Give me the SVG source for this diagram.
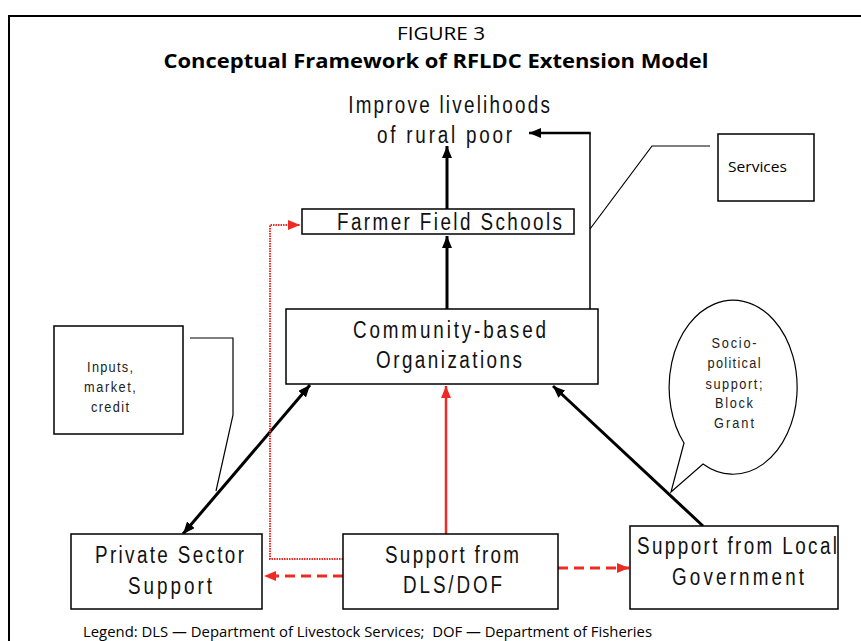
<svg xmlns="http://www.w3.org/2000/svg" width="861" height="641" viewBox="0 0 861 641">
<defs>
<style>
.box{fill:#fff;stroke:#000;stroke-width:1.5}
.thin{fill:none;stroke:#000;stroke-width:1.2}
.lbl{font-family:"Liberation Sans",Arial,sans-serif;font-size:23px;fill:#111;text-anchor:middle}
.sm{font-family:"Liberation Sans",Arial,sans-serif;font-size:15px;fill:#222;text-anchor:middle}
.hd{font-family:"Open Sans","Noto Sans",sans-serif;fill:#000;text-anchor:middle}
.blk{fill:none;stroke:#000;stroke-width:3}
.red{fill:none;stroke:#ee2a24;stroke-width:2.5}
.dash{fill:none;stroke:#ee2a24;stroke-width:3;stroke-dasharray:10,6}
.dot{fill:none;stroke:#ee2a24;stroke-width:2;stroke-dasharray:1.5,1}
</style>
<marker id="ab" markerUnits="userSpaceOnUse" markerWidth="12" markerHeight="10" refX="12" refY="5" orient="auto-start-reverse"><path d="M0,0 L12,5 L0,10 z" fill="#000"/></marker>
<marker id="ar" markerUnits="userSpaceOnUse" markerWidth="12" markerHeight="10" refX="12" refY="5" orient="auto-start-reverse"><path d="M0,0 L12,5 L0,10 z" fill="#ee2a24"/></marker>
</defs>
<rect x="9" y="16" width="900" height="700" fill="#fff" stroke="#000" stroke-width="2"/>
<text class="hd" x="441" y="40" font-size="18" textLength="88" lengthAdjust="spacingAndGlyphs">FIGURE 3</text>
<text class="hd" x="436" y="68" font-size="19" font-weight="bold" textLength="545" lengthAdjust="spacingAndGlyphs">Conceptual Framework of RFLDC Extension Model</text>

<g id="goal">
<text class="lbl" transform="translate(449,113) scale(0.82,1)" textLength="246">Improve livelihoods</text>
<text class="lbl" transform="translate(444.5,143) scale(0.82,1)" textLength="164.6">of rural poor</text>
</g>

<g id="connectors">
<path fill="none" stroke="#000" stroke-width="1.5" d="M590,309 L590,133"/>
<path fill="none" stroke="#000" stroke-width="2.5" d="M590.7,133 L529,133" marker-end="url(#ab)"/>
<path class="blk" d="M447,209 L447,146" marker-end="url(#ab)"/>
<path class="blk" d="M447,309 L447,236" marker-end="url(#ab)"/>
<path class="blk" d="M183,534 L310,385" marker-start="url(#ab)" marker-end="url(#ab)"/>
<path class="blk" d="M703,526 L553,386" marker-end="url(#ab)"/>
<path class="red" d="M446,534 L446,386" marker-end="url(#ar)"/>
<path class="dot" d="M343,559 L270,559 L270,225 L300,225" marker-end="url(#ar)"/>
<path class="dash" d="M343,576 L264,576" marker-end="url(#ar)"/>
<path class="dash" d="M558,568 L629,568" marker-end="url(#ar)"/>
</g>

<g id="ffs">
<rect class="box" x="302" y="209" width="272" height="25"/>
<text class="lbl" transform="translate(449.5,230) scale(0.82,1)" textLength="274.4">Farmer Field Schools</text>
</g>

<g id="cbo">
<rect class="box" x="286" y="309" width="312" height="75"/>
<text class="lbl" transform="translate(449.5,338) scale(0.82,1)" textLength="235.4">Community-based</text>
<text class="lbl" transform="translate(449,368) scale(0.82,1)" textLength="178">Organizations</text>
</g>

<g id="services">
<rect class="box" x="718" y="134" width="96" height="67"/>
<text class="hd" x="757.5" y="172" font-size="15" textLength="59" lengthAdjust="spacingAndGlyphs">Services</text>
<path class="thin" d="M710,146 L652,146 L590,229"/>
</g>

<g id="inputs">
<rect class="box" x="54" y="326" width="129" height="108"/>
<text class="sm" transform="translate(110,372) scale(0.85,1)" textLength="54">Inputs,</text>
<text class="sm" transform="translate(110,392) scale(0.85,1)" textLength="61">market,</text>
<text class="sm" transform="translate(110,412) scale(0.85,1)" textLength="44.7">credit</text>
<path class="thin" d="M190,338 L233,338 L233,415 L216,491"/>
</g>

<g id="bubble">
<path d="M684,443 A64,87 0 1,1 703,464 L671,492 Z" fill="#fff" stroke="#000" stroke-width="1.2"/>
<text class="sm" transform="translate(734,348) scale(0.85,1)" textLength="53">Socio-</text>
<text class="sm" transform="translate(734,368) scale(0.85,1)" textLength="62.4">political</text>
<text class="sm" transform="translate(734,389) scale(0.85,1)" textLength="67">support;</text>
<text class="sm" transform="translate(734,408) scale(0.85,1)" textLength="44.7">Block</text>
<text class="sm" transform="translate(734,428) scale(0.85,1)" textLength="47">Grant</text>
</g>

<g id="private">
<rect class="box" x="71" y="534" width="191" height="75"/>
<text class="lbl" transform="translate(169.5,563) scale(0.82,1)" textLength="181.7">Private Sector</text>
<text class="lbl" transform="translate(170,594) scale(0.82,1)" textLength="102.4">Support</text>
</g>

<g id="dls">
<rect class="box" x="343" y="534" width="215" height="75"/>
<text class="lbl" transform="translate(452,563) scale(0.82,1)" textLength="163.4">Support from</text>
<text class="lbl" transform="translate(452.5,593) scale(0.82,1)" textLength="120.7">DLS/DOF</text>
</g>

<g id="lg">
<rect class="box" x="630" y="526" width="208" height="83"/>
<text class="lbl" transform="translate(737,554) scale(0.82,1)" textLength="243.9">Support from Local</text>
<text class="lbl" transform="translate(738,585) scale(0.82,1)" textLength="161">Government</text>
</g>

<text class="hd" x="367.5" y="637" font-size="14" textLength="569" lengthAdjust="spacingAndGlyphs">Legend: DLS — Department of Livestock Services;&#160; DOF — Department of Fisheries</text>
</svg>
